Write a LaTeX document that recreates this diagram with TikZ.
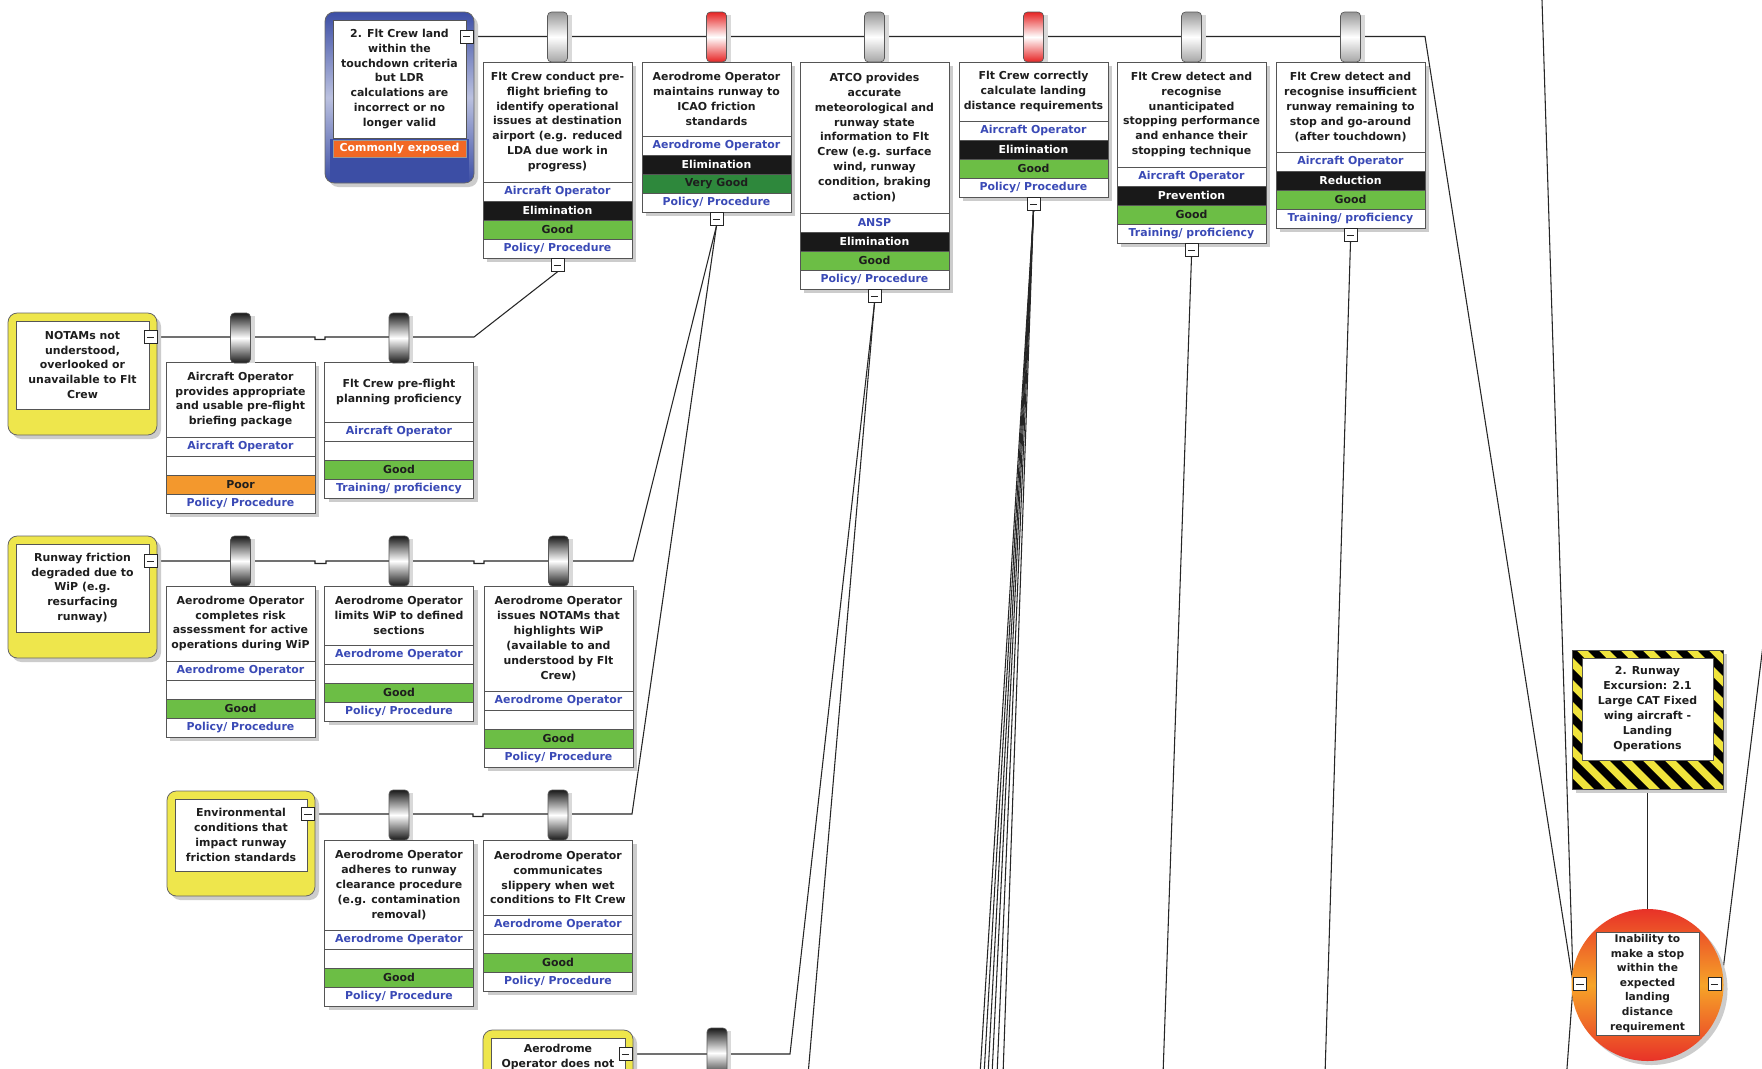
\documentclass[tikz,border=0pt]{standalone}
\usepackage{fontspec}
\setmainfont{DejaVu Sans}
\usetikzlibrary{calc}
\pgfdeclarelayer{bg}
\pgfsetlayers{bg,main}
\definecolor{txt}{RGB}{30,30,30}
\definecolor{owncol}{RGB}{58,74,182}
\definecolor{goodg}{RGB}{108,190,69}
\definecolor{vgoodg}{RGB}{46,136,60}
\definecolor{poorc}{RGB}{243,152,45}
\definecolor{expo}{RGB}{242,104,36}
\definecolor{thblue}{RGB}{60,78,165}
\definecolor{escy}{RGB}{238,230,76}
\definecolor{hazy}{RGB}{240,228,60}
\definecolor{tered}{RGB}{232,50,40}
\definecolor{teor}{RGB}{246,164,40}
\definecolor{cylg}{RGB}{150,150,150}
\definecolor{cylr}{RGB}{230,35,35}
\definecolor{boxgray}{RGB}{85,85,85}
\newcommand\ft{\fontsize{8.2}{11.2}\selectfont\bfseries}
\newcommand\fte{\fontsize{8.0}{10.9}\selectfont\bfseries}
\tikzset{
  cellline/.style={draw=boxgray, line width=0.6pt},
  bodytext/.style={align=center, font=\ft, text=txt, inner sep=0pt},
  owntext/.style={font=\ft, text=owncol, inner sep=0pt},
  typetext/.style={font=\ft, text=white, inner sep=0pt},
  efftext/.style={font=\ft, text=txt, inner sep=0pt},
  eff Good/.style={fill=goodg},
  eff Very Good/.style={fill=vgoodg},
  eff Poor/.style={fill=poorc},
  shadowc/.style={fill=black!20},
  minusbox/.style={draw=black!85, fill=white, line width=0.6pt, minimum size=9.6pt, inner sep=0pt,
    path picture={\draw[line width=0.7pt] ([xshift=2pt]path picture bounding box.west) -- ([xshift=-2pt]path picture bounding box.east);}},
  conn/.style={draw=black!85, line width=0.8pt},
  cyl/.style={draw=black!65, line width=0.5pt, rounded corners=3pt, minimum width=15pt, minimum height=37.5pt, inner sep=0pt},
  cyl grey/.style={cyl, top color=cylg, bottom color=cylg!85, middle color=white},
  cyl red/.style={cyl, top color=cylr, bottom color=cylr, middle color=white},
  cyl dark/.style={cyl, top color=black!90, bottom color=black!90, middle color=white},
}
% barrier box: id, cx, top, text-bottom, text, owner, type, effectiveness, category
\newcommand\bx[9]{%
  \fill[shadowc] ({#2-70.5},{#3+4}) rectangle ({#2+78.5},{#4+80});
  \draw[cellline, fill=white] ({#2-74.5},#3) rectangle ({#2+74.5},#4);
  \node[bodytext] (#1) at (#2,{(#3+#4)/2}) {#5};
  \draw[cellline, fill=white] ({#2-74.5},#4) rectangle ({#2+74.5},{#4+19});
  \node[owntext] (#1-o) at (#2,{#4+9.5}) {#6};
  \def\bxtype{#7}%
  \ifx\bxtype\empty
    \draw[cellline, fill=white] ({#2-74.5},{#4+19}) rectangle ({#2+74.5},{#4+38});
  \else
    \draw[cellline, fill=black!90] ({#2-74.5},{#4+19}) rectangle ({#2+74.5},{#4+38});
    \node[typetext] (#1-t) at (#2,{#4+28.5}) {#7};
  \fi
  \draw[cellline, eff #8] ({#2-74.5},{#4+38}) rectangle ({#2+74.5},{#4+57});
  \node[efftext] (#1-e) at (#2,{#4+47.5}) {#8};
  \draw[cellline, fill=white] ({#2-74.5},{#4+57}) rectangle ({#2+74.5},{#4+76});
  \node[owntext] (#1-c) at (#2,{#4+66.5}) {#9};
}
% escalation factor: id, x1, y1, x2, y2, inner y2, text
\newcommand\esc[7]{%
  \fill[shadowc, rounded corners=7pt] ({#2+4},{#3+4}) rectangle ({#4+4},{#5+4});
  \draw[draw=black!60, fill=escy, line width=0.6pt, rounded corners=7pt] (#2,#3) rectangle (#4,#5);
  \draw[cellline, fill=white] ({#2+8},{#3+8}) rectangle ({#4-8},#6);
  \node[bodytext] (#1) at ({(#2+#4)/2},{(#3+8+#6)/2}) {#7};
}
% cylinder: id, cx, top, kind
\newcommand\cyl[4]{%
  \fill[black!15] ({#2-6},{#3+3}) rectangle ({#2+14},{#3+50});
  \node[cyl #4] (#1) at (#2,{#3+25}) {};
}
\begin{document}
\begin{tikzpicture}[x=0.75pt,y=-0.75pt]
\useasboundingbox (0,0) rectangle (1762,1068);
\clip (0,0) rectangle (1762,1068);

% ---------- threat ----------
\fill[shadowc, rounded corners=7pt] (329,16) rectangle (478,187);
\shade[draw=black!60, line width=0.6pt, rounded corners=7pt, top color=thblue, bottom color=thblue, middle color=thblue!35] (325,12) rectangle (474,183);
\draw[cellline, fill=white] (333,20) rectangle (466,138);
\node[bodytext] (T1) at (399.5,79) {2. Flt Crew land\\within the\\touchdown criteria\\but LDR\\calculations are\\incorrect or no\\longer valid};
\fill[thblue] (330,139) rectangle (469,182);
\draw[draw=black!40, fill=expo] (333,140) rectangle (466,157);
\node[font=\ft, text=white, inner sep=0pt] (T1x) at (399.5,148.5) {Commonly exposed};
\node[minusbox] (mT1) at (466.5,36.5) {};

% ---------- top row barriers ----------
\bx{B1}{557.5}{62}{182}{Flt Crew conduct pre-\\flight briefing to\\identify operational\\issues at destination\\airport (e.g. reduced\\LDA due work in\\progress)}{Aircraft Operator}{Elimination}{Good}{Policy/ Procedure}
\bx{B2}{716.5}{62}{136}{Aerodrome Operator\\maintains runway to\\ICAO friction\\standards}{Aerodrome Operator}{Elimination}{Very Good}{Policy/ Procedure}
\bx{B3}{874.5}{62}{213}{ATCO provides\\accurate\\meteorological and\\runway state\\information to Flt\\Crew (e.g. surface\\wind, runway\\condition, braking\\action)}{ANSP}{Elimination}{Good}{Policy/ Procedure}
\bx{B4}{1033.5}{62}{121}{Flt Crew correctly\\calculate landing\\distance requirements}{Aircraft Operator}{Elimination}{Good}{Policy/ Procedure}
\bx{B5}{1191.5}{62}{167}{Flt Crew detect and\\recognise\\unanticipated\\stopping performance\\and enhance their\\stopping technique}{Aircraft Operator}{Prevention}{Good}{Training/ proficiency}
\bx{B6}{1350.5}{62}{152}{Flt Crew detect and\\recognise insufficient\\runway remaining to\\stop and go-around\\(after touchdown)}{Aircraft Operator}{Reduction}{Good}{Training/ proficiency}
\node[minusbox] (mB1) at (557.5,265) {};
\node[minusbox] (mB2) at (716.5,219) {};
\node[minusbox] (mB3) at (874.5,296) {};
\node[minusbox] (mB4) at (1033.5,204) {};
\node[minusbox] (mB5) at (1191.5,250) {};
\node[minusbox] (mB6) at (1350.5,235) {};
\cyl{K1}{557.5}{12}{grey}
\cyl{K2}{716.5}{12}{red}
\cyl{K3}{874.5}{12}{grey}
\cyl{K4}{1033.5}{12}{red}
\cyl{K5}{1191.5}{12}{grey}
\cyl{K6}{1350.5}{12}{grey}

% ---------- escalation row 1 ----------
\esc{E1}{8}{313}{157}{435}{409}{NOTAMs not\\understood,\\overlooked or\\unavailable to Flt\\Crew}
\node[minusbox] (mE1) at (150.5,337) {};
\bx{C1}{240.5}{362}{437}{Aircraft Operator\\provides appropriate\\and usable pre-flight\\briefing package}{Aircraft Operator}{}{Poor}{Policy/ Procedure}
\bx{C2}{399}{362}{422}{Flt Crew pre-flight\\planning proficiency}{Aircraft Operator}{}{Good}{Training/ proficiency}
\cyl{KC1}{240.5}{313}{dark}
\cyl{KC2}{399}{313}{dark}

% ---------- escalation row 2 ----------
\esc{E2}{8}{536}{157}{658}{632}{Runway friction\\degraded due to\\WiP (e.g.\\resurfacing\\runway)}
\node[minusbox] (mE2) at (150.5,561) {};
\bx{D1}{240.5}{586}{661}{Aerodrome Operator\\completes risk\\assessment for active\\operations during WiP}{Aerodrome Operator}{}{Good}{Policy/ Procedure}
\bx{D2}{399}{586}{645}{Aerodrome Operator\\limits WiP to defined\\sections}{Aerodrome Operator}{}{Good}{Policy/ Procedure}
\bx{D3}{558.5}{586}{691}{Aerodrome Operator\\issues NOTAMs that\\highlights WiP\\(available to and\\understood by Flt\\Crew)}{Aerodrome Operator}{}{Good}{Policy/ Procedure}
\cyl{KD1}{240.5}{536}{dark}
\cyl{KD2}{399}{536}{dark}
\cyl{KD3}{558.5}{536}{dark}

% ---------- escalation row 3 ----------
\esc{E3}{167}{791}{315}{896}{871}{Environmental\\conditions that\\impact runway\\friction standards}
\node[minusbox] (mE3) at (308,814) {};
\bx{F1}{399}{840}{930}{Aerodrome Operator\\adheres to runway\\clearance procedure\\(e.g. contamination\\removal)}{Aerodrome Operator}{}{Good}{Policy/ Procedure}
\bx{F2}{558}{840}{915}{Aerodrome Operator\\communicates\\slippery when wet\\conditions to Flt Crew}{Aerodrome Operator}{}{Good}{Policy/ Procedure}
\cyl{KF1}{399}{790}{dark}
\cyl{KF2}{558}{790}{dark}

% ---------- escalation row 4 (partly visible) ----------
\fill[shadowc, rounded corners=7pt] (487,1034) rectangle (637,1160);
\draw[draw=black!60, fill=escy, line width=0.6pt, rounded corners=7pt] (483,1030) rectangle (633,1156);
\draw[cellline, fill=white] (491,1038) rectangle (625,1140);
\node[bodytext, anchor=north] (E4) at (558,1044) {Aerodrome\\Operator does not};
\node[minusbox] (mE4) at (625.5,1054) {};
\cyl{KG1}{717}{1028}{dark}

% ---------- hazard ----------
\fill[shadowc] (1576,654) rectangle (1727,793);
\node[minimum width=113.25pt, minimum height=104.25pt, inner sep=0pt] (Hz) at (1647.5,719.5) {};
\begin{scope}
  \clip (1572,650) rectangle (1723,789);
  \fill[hazy] (1572,650) rectangle (1723,789);
  \foreach \k in {0,...,14} \fill[black] ({1433+\k*22},650) -- ++(11,0) -- ++(139,139) -- ++(-11,0) -- cycle;
\end{scope}
\draw[black!70, line width=0.6pt] (1572,650) rectangle (1723,789);
\draw[cellline, fill=white] (1582,658) rectangle (1713,760);
\node[bodytext] (Hzt) at (1647.5,709) {2. Runway\\Excursion: 2.1\\Large CAT Fixed\\wing aircraft -\\Landing\\Operations};

% ---------- top event ----------
\fill[shadowc] (1651.5,989) circle[radius=57pt];
\node[circle, minimum size=114pt, inner sep=0pt, top color=tered, bottom color=tered, middle color=teor] (TE) at (1647.5,985) {};
\draw[cellline, fill=white] (1596,932) rectangle (1699,1035);
\node[bodytext, font=\fte] (TEt) at (1647.5,983.5) {Inability to\\make a stop\\within the\\expected\\landing\\distance\\requirement};
\node[minusbox] (mTEl) at (1580,984) {};
\node[minusbox] (mTEr) at (1714.5,984) {};

% ---------- connectors ----------
\coordinate (cTop) at (1425,36.5);
\coordinate (cIn) at (1541.8,-6);
\coordinate (cOut) at (1566.5,1075);
\coordinate (cR2) at (474,337);
\coordinate (cR3) at (633,561);
\coordinate (cR4) at (632,814);
\coordinate (cR5) at (790,1054);
\coordinate (cB3) at (808,1075);
\coordinate (cB4a) at (980,1075);
\coordinate (cB4b) at (984,1075);
\coordinate (cB4c) at (988,1075);
\coordinate (cB4d) at (992,1075);
\coordinate (cB4e) at (997,1075);
\coordinate (cB4f) at (1003,1075);
\coordinate (cB5) at (1163,1075);
\coordinate (cB6) at (1325,1075);
\coordinate (cRt) at (1764,637);
\begin{pgfonlayer}{bg}
  \fill[white] (0,0) rectangle (1762,1068);
  \clip (0,0) rectangle (1762,1068);
  \draw[conn] (mT1.east) -- (cTop) -- (mTEl.west);
  \draw[conn] (cIn) -- (mTEl.west) -- (cOut);
  \draw[conn] (mE1.east) -- (315,337) -- (315,339.5) -- (325,339.5) -- (325,337) -- (cR2) -- (mB1.south);
  \draw[conn] (mE2.east) -- (315,561) -- (315,563.5) -- (326,563.5) -- (326,561) -- (474,561) -- (474,563.5) -- (484,563.5) -- (484,561) -- (cR3) -- (mB2.south);
  \draw[conn] (mE3.east) -- (473,814) -- (473,816.5) -- (483,816.5) -- (483,814) -- (cR4) -- (mB2.south);
  \draw[conn] (mE4.east) -- (cR5) -- (mB3.south);
  \draw[conn] (mB3.south) -- (cB3);
  \foreach \c in {cB4a,cB4b,cB4c,cB4d,cB4e,cB4f} \draw[conn] (mB4.south) -- (\c);
  \draw[conn] (mB5.south) -- (cB5);
  \draw[conn] (mB6.south) -- (cB6);
  \draw[conn] (mTEr.east) -- (cRt);
  \draw[conn] (Hz.south) -- (TE.north);
\end{pgfonlayer}
\end{tikzpicture}
\end{document}
